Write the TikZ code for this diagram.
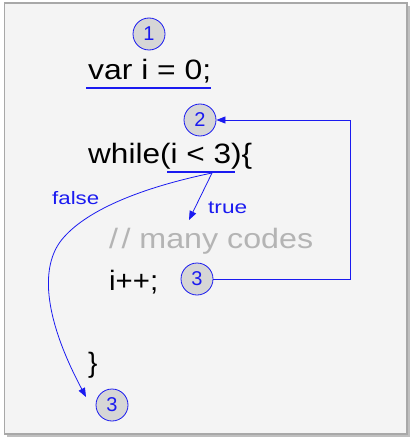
\documentclass[tikz,border=0pt]{standalone}
\usepackage{fontspec}
\setmainfont{Liberation Sans}
\usetikzlibrary{arrows.meta}
\definecolor{lblue}{HTML}{1A1AF0}
\definecolor{bgc}{HTML}{F4F4F4}
\definecolor{framec}{HTML}{A8A8A8}
\definecolor{cfill}{HTML}{D6D6D6}
\definecolor{commc}{HTML}{B4B4B4}
\newcommand{\fitw}[2]{\resizebox{#1pt}{\height}{#2}}
\tikzset{
  num/.style={circle,draw=lblue,fill=cfill,line width=0.8pt,minimum size=32pt,inner sep=0pt,text=lblue,font=\fontsize{20}{20}\selectfont},
  code/.style={anchor=base west,inner sep=0pt,font=\fontsize{28}{28}\selectfont},
  lbl/.style={text=lblue,inner sep=0pt,font=\fontsize{18}{18}\selectfont},
  ul/.style={draw=lblue,line width=1.5pt},
  con/.style={draw=lblue,line width=0.8pt},
  tip/.style={-{Triangle[length=9pt,width=7pt]}}
}
\begin{document}
\begin{tikzpicture}[x=1pt,y=-1pt]
\useasboundingbox (0,0) rectangle (412,441);
\fill[black!25] (7,6) rectangle (410,437);
\draw[fill=bgc,draw=framec,line width=1.2pt] (4.5,3) rectangle (407,434);
\node[num] (n1) at (149,34) {1};
\node[code] (t1) at (88,80) {\fitw{123}{var i = 0;}};
\draw[ul] (86,88) -- (211,88);
\node[num] (n2) at (200,120) {2};
\node[code] (t2) at (88,163) {\fitw{164}{while(i < 3)\{}};
\coordinate (u1) at (167,172);
\coordinate (u2) at (235,172);
\draw[ul] (u1) -- (u2);
\coordinate (src) at (212,173);
\node[code,text=commc] (t3) at (109,248) {\fitw{204}{/\hspace{3pt}/ many codes}};
\node[code] (t4) at (109,290) {\fitw{49}{i++;}};
\node[num] (n3a) at (197,279) {3};
\node[code] (t5) at (88,372) {\}};
\node[num] (n3b) at (112,405) {3};
\node[lbl,anchor=west] (ltrue) at (208,208) {\fitw{39}{true}};
\node[lbl,anchor=west] (lfalse) at (52,198) {\fitw{47}{false}};
\coordinate (tr) at (189,220);
\draw[con,tip] (src) -- (tr);
\coordinate (rc1) at (350,279);
\coordinate (rc2) at (350,120);
\draw[con,tip] (n3a.east) -- (rc1) -- (rc2) -- (n2.east);
\coordinate (fe) at (86,397);
\draw[con,tip] (src) .. controls (130,190) and (80,215) .. (60,242)
  .. controls (40,270) and (45,320) .. (fe);
\end{tikzpicture}
\end{document}
